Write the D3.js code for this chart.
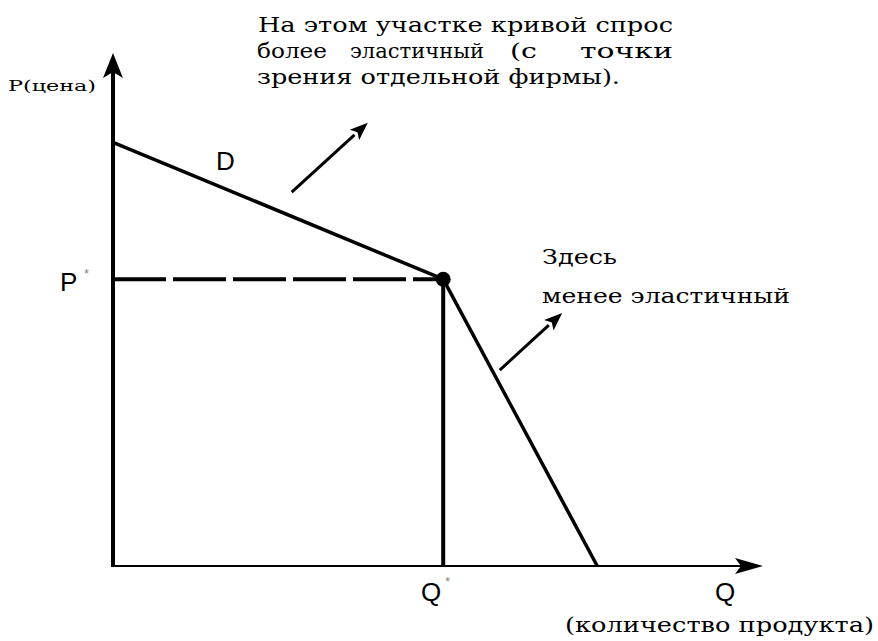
<!DOCTYPE html>
<html>
<head>
<meta charset="utf-8">
<script src="https://cdn.jsdelivr.net/npm/d3@7/dist/d3.min.js"></script>
<style>
  body { margin: 0; background: #fff; }
  svg { display: block; }
</style>
</head>
<body>
<svg id="svg" width="878" height="641"></svg>
<script>
// demand curve (kinked), in arbitrary units
const demandQ = [0, 50.8, 74.5],
    demandP = [82.6, 55.9, 0];
const qStar = 50.8, pStar = 55.9;
// annotation arrows: [from, to] in data units
const arrowUpper = [[27.5, 72.9], [39.2, 86.4]],
    arrowLower = [[59.5, 38.2], [69.1, 49.3]];
const noteTop = ["На этом участке кривой спрос", "зрения отдельной фирмы)."];
const noteMid = ["более", "эластичный", "(с", "точки"];
const noteRight = ["Здесь", "менее эластичный"];

const serif = '"DejaVu Serif", "Liberation Serif", serif',
    sans = '"Liberation Sans", Arial, sans-serif';

const x = d3.scaleLinear().domain([0, 100]).range([113, 763]),
    y = d3.scaleLinear().domain([0, 100]).range([566, 53]);

const svg = d3.select("#svg");
const line = d3.line().x(d => x(d[0])).y(d => y(d[1]));

// axes
svg.append("line").attr("x1", x(0)).attr("x2", x(0)).attr("y1", y(0) + 1).attr("y2", y(97))
    .style("stroke", "#000").style("stroke-width", 4);
svg.append("line").attr("x1", x(0)).attr("x2", x(97)).attr("y1", y(0)).attr("y2", y(0))
    .style("stroke", "#000").style("stroke-width", 2);
const ty = [x(0), y(100)];
svg.append("path").attr("d", `M${ty[0]},${ty[1]} L${ty[0] - 10},${ty[1] + 25} L${ty[0]},${ty[1] + 19} L${ty[0] + 10},${ty[1] + 25} Z`)
    .style("fill", "#000");
const tx = [x(100), y(0)];
svg.append("path").attr("d", `M${tx[0]},${tx[1]} L${tx[0] - 28},${tx[1] - 8} L${tx[0] - 22},${tx[1]} L${tx[0] - 28},${tx[1] + 8} Z`)
    .style("fill", "#000");

// P* dashed, Q* solid
svg.append("line").attr("x1", x(0)).attr("x2", x(qStar)).attr("y1", y(pStar)).attr("y2", y(pStar))
    .style("stroke", "#000").style("stroke-width", 4).style("stroke-dasharray", "53,7");
svg.append("line").attr("x1", x(qStar)).attr("x2", x(qStar)).attr("y1", y(pStar)).attr("y2", y(0))
    .style("stroke", "#000").style("stroke-width", 4);

// demand
svg.append("path").datum(demandQ.map((q, i) => [q, demandP[i]])).attr("d", line)
    .attr("fill", "none").style("stroke", "#000").style("stroke-width", 3.5);
svg.append("circle").attr("cx", x(qStar)).attr("cy", y(pStar)).attr("r", 7.5).style("fill", "#000");

// annotation arrows
[arrowUpper, arrowLower].forEach(a => {
    const x0 = x(a[0][0]), y0 = y(a[0][1]), x1 = x(a[1][0]), y1 = y(a[1][1]);
    const ang = Math.atan2(y1 - y0, x1 - x0), L = 18, W = 7;
    const bx = x1 - L * Math.cos(ang), by = y1 - L * Math.sin(ang);
    svg.append("line").attr("x1", x0).attr("y1", y0).attr("x2", bx).attr("y2", by)
        .style("stroke", "#000").style("stroke-width", 3);
    svg.append("path").attr("d", `M${x1},${y1} L${bx - W * Math.sin(ang)},${by + W * Math.cos(ang)} L${bx + 4 * Math.cos(ang)},${by + 4 * Math.sin(ang)} L${bx + W * Math.sin(ang)},${by - W * Math.cos(ang)} Z`)
        .style("fill", "#000");
});

// text helper
function label(t, px, py, font, size, len) {
    const el = svg.append("text").attr("x", px).attr("y", py)
        .style("font-family", font).style("font-size", size + "px").style("fill", "#000").text(t);
    if (len) el.attr("textLength", len).attr("lengthAdjust", "spacingAndGlyphs");
    return el;
}

label("P(цена)", 8, 91, serif, 15, 88);
label("D", 216, 170, sans, 26);
label("P", 60, 291, sans, 26);
label("*", 84, 278, sans, 13).style("fill", "#888");
label("Q", 421, 601, sans, 26);
label("*", 445, 586, sans, 13).style("fill", "#888");
label("Q", 715, 601, sans, 26);

label(noteTop[0], 258, 32, serif, 21, 415);
const midX = [257, 350, 510, 580], midW = [70, 134, 27, 93];
noteMid.forEach((t, i) => label(t, midX[i], 58, serif, 21, midW[i]));
label(noteTop[1], 257, 84, serif, 21, 363);

label(noteRight[0], 542, 264, serif, 21, 75);
label(noteRight[1], 542, 303, serif, 21, 248);
label("(количество продукта)", 565, 632, serif, 21, 309);
</script>
</body>
</html>
